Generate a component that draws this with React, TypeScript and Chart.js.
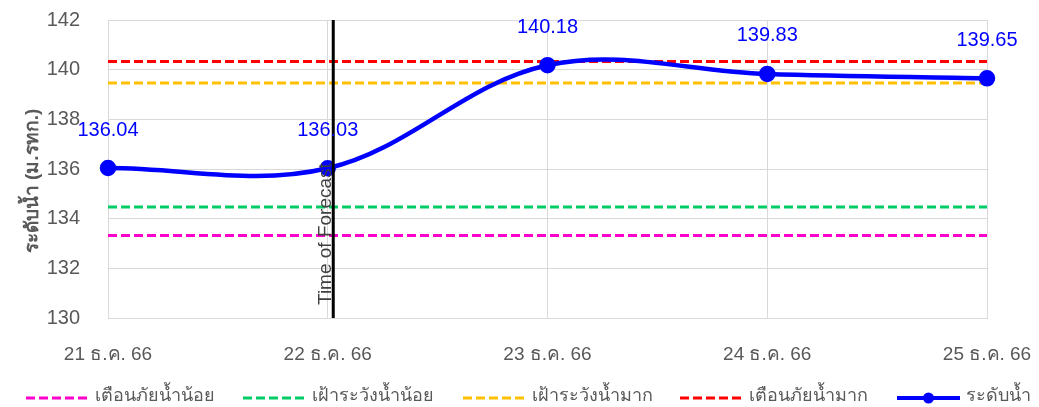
import React, { useEffect, useRef } from 'react';
import { Chart, registerables } from 'chart.js';

Chart.register(...registerables);

// ---- data ----
const categories = ['21 ธ.ค. 66', '22 ธ.ค. 66', '23 ธ.ค. 66', '24 ธ.ค. 66', '25 ธ.ค. 66'];
const waterLevel = [136.04, 136.03, 140.18, 139.83, 139.65];
const lowCritical = [133.32, 133.32, 133.32, 133.32, 133.32];
const lowWatch = [134.47, 134.47, 134.47, 134.47, 134.47];
const highWatch = [139.46, 139.46, 139.46, 139.46, 139.46];
const highCritical = [140.33, 140.33, 140.33, 140.33, 140.33];
const seriesNames = ['เตือนภัยน้ำน้อย', 'เฝ้าระวังน้ำน้อย', 'เฝ้าระวังน้ำมาก', 'เตือนภัยน้ำมาก', 'ระดับน้ำ'];
const yMin = 130;
const yMax = 142;
const yStep = 2;
const yTitle = 'ระดับน้ำ (ม.รทก.)';
const forecastLabel = 'Time of Forecast';
const forecastIndex = 1;
const forecastFraction = 0.025;

const FONT = "Tahoma, 'Liberation Sans', 'Noto Sans', sans-serif";
const GRAY = '#595959';
const GRID = '#d9d9d9';
const colors = ['#ff00cc', '#00cc66', '#ffc000', '#ff0000', '#0000ff'];

const overlayPlugin = {
  id: 'overlay',
  afterDatasetsDraw(chart: any) {
    const { ctx, chartArea, scales } = chart;
    const x = scales.x;
    const p1 = x.getPixelForValue(forecastIndex);
    const p2 = x.getPixelForValue(forecastIndex + 1);
    const fx = p1 + (p2 - p1) * forecastFraction;
    ctx.save();
    ctx.strokeStyle = '#000000';
    ctx.lineWidth = 3;
    ctx.beginPath();
    ctx.moveTo(fx, chartArea.top);
    ctx.lineTo(fx, chartArea.bottom);
    ctx.stroke();

    ctx.save();
    ctx.translate(fx - 2, 305);
    ctx.rotate(-Math.PI / 2);
    ctx.font = `19px ${FONT}`;
    ctx.fillStyle = '#404040';
    ctx.textAlign = 'left';
    ctx.textBaseline = 'alphabetic';
    ctx.fillText(forecastLabel, 0, 0);
    ctx.restore();

    const meta = chart.getDatasetMeta(0);
    ctx.font = `20px ${FONT}`;
    ctx.fillStyle = '#0000ff';
    ctx.textAlign = 'center';
    ctx.textBaseline = 'middle';
    meta.data.forEach((pt: any, i: number) => {
      ctx.fillText(waterLevel[i].toFixed(2), pt.x, pt.y - 38);
    });
    ctx.restore();
  },
  afterDraw(chart: any) {
    const { ctx } = chart;
    // y-axis title
    ctx.save();
    ctx.translate(33, 181);
    ctx.rotate(-Math.PI / 2);
    ctx.font = `bold 19px ${FONT}`;
    ctx.fillStyle = GRAY;
    ctx.textAlign = 'center';
    ctx.textBaseline = 'middle';
    ctx.fillText(yTitle, 0, 0);
    ctx.restore();

    const starts = [26, 243, 463, 680, 897];
    const y = 398;
    ctx.save();
    starts.forEach((sx, k) => {
      const color = colors[k];
      if (k < 4) {
        ctx.strokeStyle = color;
        ctx.lineWidth = 3;
        ctx.setLineDash([9, 4]);
        ctx.beginPath();
        ctx.moveTo(sx, y);
        ctx.lineTo(sx + 63, y);
        ctx.stroke();
        ctx.setLineDash([]);
      } else {
        ctx.strokeStyle = color;
        ctx.lineWidth = 4;
        ctx.beginPath();
        ctx.moveTo(sx, y);
        ctx.lineTo(sx + 63, y);
        ctx.stroke();
        ctx.fillStyle = color;
        ctx.beginPath();
        ctx.arc(sx + 31.5, y, 5.5, 0, Math.PI * 2);
        ctx.fill();
      }
      ctx.font = `18px ${FONT}`;
      ctx.fillStyle = GRAY;
      ctx.textAlign = 'left';
      ctx.textBaseline = 'middle';
      ctx.fillText(seriesNames[k], sx + 69, y - 2);
    });
    ctx.restore();
  },
};

const zeroPadding = (s: any) => {
  s.paddingTop = 0;
  s.paddingBottom = 0;
  s.paddingLeft = 0;
  s.paddingRight = 0;
};

export default function App() {
  const canvasRef = useRef<HTMLCanvasElement | null>(null);

  useEffect(() => {
    const canvas = canvasRef.current;
    if (!canvas) return;
    const thresholdDs = (data: number[], idx: number, order: number) => ({
      label: seriesNames[idx],
      data,
      borderColor: colors[idx],
      backgroundColor: colors[idx],
      borderWidth: 3,
      borderDash: [9, 4],
      pointRadius: 0,
      tension: 0,
      fill: false,
      order,
    });
    const chart = new Chart(canvas, {
      type: 'line',
      data: {
        labels: categories,
        datasets: [
          {
            label: seriesNames[4],
            data: waterLevel,
            borderColor: colors[4],
            backgroundColor: colors[4],
            borderWidth: 4.5,
            pointRadius: 6,
            pointBackgroundColor: colors[4],
            pointBorderColor: colors[4],
            tension: 0.36,
            fill: false,
            order: 0,
          },
          thresholdDs(lowCritical, 0, 1),
          thresholdDs(lowWatch, 1, 1),
          thresholdDs(highWatch, 2, 1),
          thresholdDs(highCritical, 3, 1),
        ],
      },
      options: {
        responsive: false,
        animation: false,
        devicePixelRatio: 1,
        layout: { padding: { left: 0, top: 20, right: 52, bottom: 39 } },
        plugins: {
          legend: { display: false },
          tooltip: { enabled: false },
        },
        scales: {
          x: {
            offset: false,
            grid: { color: GRID, drawTicks: false, lineWidth: 1 },
            border: { color: GRID },
            ticks: {
              color: GRAY,
              padding: 25,
              maxRotation: 0,
              autoSkip: false,
              font: { family: FONT, size: 19 },
            },
            afterFit: (s: any) => {
              s.height = 50;
              zeroPadding(s);
            },
          },
          y: {
            min: yMin,
            max: yMax,
            grid: { color: GRID, drawTicks: false, lineWidth: 1 },
            border: { color: GRID },
            ticks: {
              stepSize: yStep,
              color: GRAY,
              padding: 28,
              font: { family: FONT, size: 20 },
            },
            title: { display: false },
            afterFit: (s: any) => {
              s.width = 108;
              zeroPadding(s);
            },
          },
        },
      },
      plugins: [overlayPlugin],
    });
    return () => chart.destroy();
  }, []);

  return (
    <div style={{ position: 'absolute', left: 0, top: 0, width: 1039, height: 407, background: '#ffffff' }}>
      <canvas ref={canvasRef} width={1039} height={407} style={{ display: 'block' }} />
    </div>
  );
}
